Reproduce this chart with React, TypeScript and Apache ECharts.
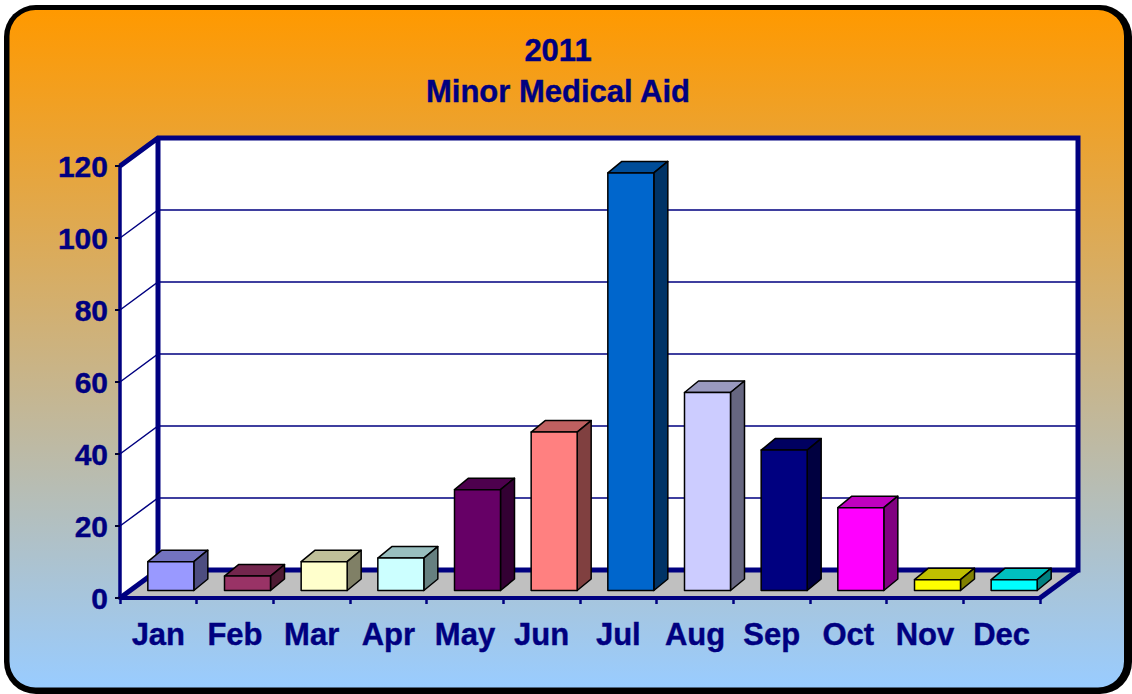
import React, { useEffect, useRef } from "react";
import * as echarts from "echarts";

const titleLines = ["2011", "Minor Medical Aid"];
const months = ["Jan", "Feb", "Mar", "Apr", "May", "Jun", "Jul", "Aug", "Sep", "Oct", "Nov", "Dec"];
const values = [8, 4, 8, 9, 28, 44, 116, 55, 39, 23, 3, 3];
const yTicks = [20, 40, 60, 80, 100, 120];
const palette = ["#9999FF", "#993366", "#FFFFCC", "#CCFFFF", "#660066", "#FF8080", "#0066CC", "#CCCCFF", "#000080", "#FF00FF", "#FFFF00", "#00FFFF"];

const NAVY = "#000080";
const DEPTH_X = 38;
const DEPTH_Y = -28;
const BAR_W = 46;
const BAR_DX = 12.5;
const BAR_DY = -7.5;
const BAR_DEPTH_X = 14;
const BAR_DEPTH_Y = -11.5;

function shade(hex: string, k: number) {
  const n = parseInt(hex.slice(1), 16);
  const r = Math.round(((n >> 16) & 255) * k);
  const g = Math.round(((n >> 8) & 255) * k);
  const b = Math.round((n & 255) * k);
  return `rgb(${r},${g},${b})`;
}

export default function App() {
  const ref = useRef<HTMLDivElement>(null);
  useEffect(() => {
    const chart = echarts.init(ref.current!, null, { renderer: "svg" });
    const option: any = {
      animation: false,
      backgroundColor: "#ffffff",
      title: {
        text: titleLines.join("\n"),
        left: 553,
        top: 25,
        textAlign: "center",
        textStyle: {
          color: NAVY,
          fontFamily: "Liberation Sans",
          fontWeight: "bold",
          fontSize: 31,
          lineHeight: 41,
          textBorderColor: NAVY,
          textBorderWidth: 0.4,
        },
      },
      grid: { left: 120, right: 92, top: 166, bottom: 96, containLabel: false },
      xAxis: {
        type: "category",
        data: months,
        z: 10,
        axisLine: { show: true, lineStyle: { color: NAVY, width: 4 } },
        axisTick: { show: true, alignWithLabel: false, length: 6, lineStyle: { color: NAVY, width: 2.5 } },
        axisLabel: {
          color: NAVY,
          fontFamily: "Liberation Sans",
          fontWeight: "bold",
          fontSize: 31,
          margin: 21,
          interval: 0,
          textBorderColor: NAVY,
          textBorderWidth: 0.4,
        },
      },
      yAxis: {
        type: "value",
        min: 0,
        max: 120,
        interval: 20,
        z: 10,
        splitLine: { show: false },
        axisLine: { show: true, lineStyle: { color: NAVY, width: 3.5 } },
        axisTick: { show: true, length: 5, lineStyle: { color: "#000030", width: 2 } },
        axisLabel: {
          color: NAVY,
          fontFamily: "Liberation Sans",
          fontWeight: "bold",
          fontSize: 30,
          margin: 12,
          textBorderColor: NAVY,
          textBorderWidth: 0.4,
        },
      },
      graphic: {
        elements: [
          {
            type: "rect",
            z: -20,
            silent: true,
            shape: { x: 4, y: 5, width: 1128, height: 689, r: 32 },
            style: { fill: "#000000" },
          },
          {
            type: "rect",
            z: -19,
            silent: true,
            shape: { x: 9.5, y: 10, width: 1114.5, height: 677.5, r: 26 },
            style: {
              fill: new echarts.graphic.LinearGradient(0, 0, 0, 1, [
                { offset: 0, color: "#FF9900" },
                { offset: 1, color: "#99CCFF" },
              ]),
            },
          },
        ],
      },
      series: [
        {
          type: "custom",
          z: 1,
          silent: true,
          clip: false,
          data: [[0, 0]],
          renderItem: (params: any, api: any) => {
            const c = params.coordSys;
            const l = c.x, t = c.y, r = c.x + c.width, b = c.y + c.height;
            const bl = l + DEPTH_X, br = r + DEPTH_X, tt = t + DEPTH_Y, bb = b + DEPTH_Y;
            const thick = { stroke: NAVY, lineWidth: 5, fill: "none" };
            return {
              type: "group",
              children: [
                { type: "polygon", shape: { points: [[l, t], [bl, tt], [bl, bb], [l, b]] }, style: { fill: "#ffffff" } },
                { type: "rect", shape: { x: bl, y: tt, width: r + DEPTH_X - bl, height: b - t }, style: { fill: "#ffffff" } },
                { type: "polygon", shape: { points: [[l, b], [r, b], [br, bb], [bl, bb]] }, style: { fill: "#C0C0C0" } },
                { type: "polyline", shape: { points: [[l, t], [bl, tt], [br, tt], [br, bb], [bl, bb], [bl, tt]] }, style: thick },
                { type: "line", shape: { x1: l, y1: b, x2: bl, y2: bb }, style: thick },
                { type: "line", shape: { x1: r, y1: b, x2: br, y2: bb }, style: thick },
              ],
            };
          },
        },
        {
          type: "custom",
          z: 2,
          silent: true,
          clip: false,
          data: yTicks.slice(0, -1).map((v) => [0, v]),
          renderItem: (params: any, api: any) => {
            const c = params.coordSys;
            const y = api.coord([0, api.value(1)])[1];
            return {
              type: "polyline",
              shape: { points: [[c.x, y], [c.x + DEPTH_X, y + DEPTH_Y], [c.x + c.width + DEPTH_X, y + DEPTH_Y]] },
              style: { stroke: NAVY, lineWidth: 1.5, fill: "none" },
            };
          },
        },
        {
          type: "custom",
          z: 3,
          silent: true,
          clip: false,
          data: values.map((v, i) => [i, v]),
          renderItem: (params: any, api: any) => {
            const i = api.value(0);
            const top = api.coord([i, api.value(1)]);
            const base = api.coord([i, 0]);
            const x0 = top[0] + BAR_DX - BAR_W / 2;
            const x1 = x0 + BAR_W;
            const y0 = top[1] + BAR_DY;
            const y1 = base[1] + BAR_DY;
            const dx = BAR_DEPTH_X, dy = BAR_DEPTH_Y;
            const color = palette[i];
            const edge = { stroke: "#000000", lineWidth: 1.5, lineJoin: "round" };
            return {
              type: "group",
              children: [
                { type: "polygon", shape: { points: [[x0, y0], [x0 + dx, y0 + dy], [x1 + dx, y0 + dy], [x1, y0]] }, style: { fill: shade(color, 0.75), ...edge } },
                { type: "polygon", shape: { points: [[x1, y0], [x1 + dx, y0 + dy], [x1 + dx, y1 + dy], [x1, y1]] }, style: { fill: shade(color, 0.5), ...edge } },
                { type: "polygon", shape: { points: [[x0, y0], [x1, y0], [x1, y1], [x0, y1]] }, style: { fill: color, ...edge } },
              ],
            };
          },
        },
      ],
    };
    chart.setOption(option);
    return () => chart.dispose();
  }, []);
  return <div ref={ref} style={{ position: "fixed", left: 0, top: 0, width: 1132, height: 694 }} />;
}
